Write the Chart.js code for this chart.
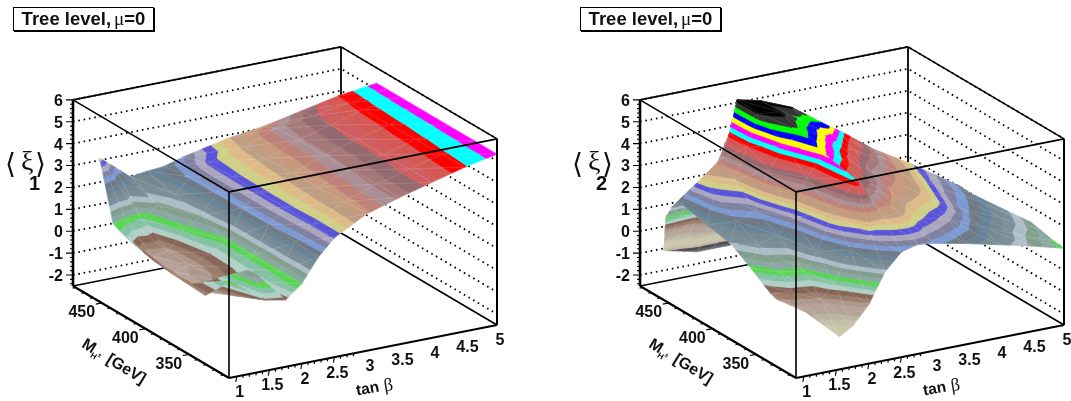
<!DOCTYPE html>
<html>
<head>
<meta charset="utf-8">
<style>
  html, body { margin: 0; padding: 0; background: #fff; width: 1071px; height: 401px; overflow: hidden; }
  canvas { position: absolute; top: 0; }
  #panel1 { left: 0; }
  #panel2 { left: 535px; }
  .tag {
    position: absolute; top: 7px; width: 139px; height: 22px;
    border: 1px solid #000; box-shadow: 1px 1px 0 #000; background: #fff; text-align: center;
    font: bold 18.5px/22px "Liberation Sans", Arial, sans-serif; color: #111; white-space: nowrap;
  }
  .tag span { font: 19px "Liberation Serif", serif; margin-left: 3px; }
</style>
</head>
<body>
<canvas id="panel1" width="535" height="401"></canvas>
<canvas id="panel2" width="536" height="401"></canvas>
<div class="tag" style="left:13px">Tree level,<span>μ</span>=0</div>
<div class="tag" style="left:580px">Tree level,<span>μ</span>=0</div>
<script src="https://cdn.jsdelivr.net/npm/chart.js@4"></script>
<script>
// values
const zTicks = [6, 5, 4, 3, 2, 1, 0, -1, -2];
const massTicks = [350, 400, 450];
const tanBetaTicks = [1, 1.5, 2, 2.5, 3, 3.5, 4, 4.5, 5];

const tanBeta1 = [1, 1.25, 1.5, 1.75, 2, 2.25, 2.5, 3, 3.5, 4, 4.5, 5];
const mass1 = [
  [340, 360, 380, 400, 423, 436, 446],
  [330, 350, 370, 395, 420, 450, 480],
  [308, 325, 345, 395, 420, 450, 482],
  [304, 330, 360, 390, 420, 450, 482],
  [304, 330, 360, 390, 420, 450, 482],
  [304, 330, 360, 390, 420, 450, 481],
  [304, 330, 360, 390, 420, 450, 478],
  [304, 330, 360, 390, 420, 445, 465],
  [304, 330, 360, 390, 420, 445, 461],
  [304, 330, 360, 390, 420, 440, 455],
  [304, 330, 360, 390, 420, 435, 449],
  [304, 330, 360, 390, 415, 430, 442]
];
const xi1 = [
  [0.35, 0.4, 0.45, 0.55, 0.75, 0.95, 1.15],
  [1.1, 0.1, 0, 0, 0.1, 1.1, 3.2],
  [0.6, 1.6, 0.45, 0.15, 0.2, 0.95, 2.6],
  [0.55, 0.75, 0.7, 0.65, 1.05, 1.45, 2.0],
  [1.15, 1.1, 1.1, 1.1, 1.5, 1.8, 2.1],
  [2.2, 2.3, 2.4, 2.45, 2.45, 2.45, 2.2],
  [2.95, 2.95, 3.0, 3.0, 3.0, 2.95, 2.55],
  [3.75, 3.7, 3.65, 3.6, 3.55, 3.5, 3.4],
  [4.2, 4.2, 4.15, 4.1, 4.1, 4.05, 3.75],
  [4.6, 4.6, 4.55, 4.55, 4.5, 4.45, 4.3],
  [5.0, 4.98, 4.95, 4.92, 4.9, 4.87, 4.85],
  [5.3, 5.3, 5.3, 5.3, 5.3, 5.3, 5.3]
];

const tanBeta2 = [1, 1.25, 1.55, 1.75, 2, 2.25, 2.5, 2.75, 3, 3.5, 4, 4.5, 5];
const mass2 = [
  [335, 342, 350, 364, 388, 415, 445, 455, 462],
  [322, 335, 350, 375, 400, 425, 440, 465, 483],
  [304, 325, 345, 375, 400, 425, 442, 468, 483],
  [304, 325, 345, 375, 400, 425, 445, 468, 483],
  [304, 325, 345, 375, 400, 430, 455, 468, 483],
  [304, 320, 338, 375, 400, 425, 447, 468, 483],
  [304, 325, 345, 375, 400, 415, 430, 445, 483],
  [304, 325, 345, 375, 390, 400, 408, 440, 483],
  [304, 325, 345, 375, 395, 405, 411, 445, 483],
  [304, 325, 345, 375, 395, 405, 410, 445, 483],
  [304, 325, 345, 375, 395, 405, 408, 445, 480],
  [304, 320, 340, 360, 375, 385, 400, 430, 470],
  [304, 315, 330, 341, 355, 375, 400, 420, 442]
];
const xi2 = [
  [0.3, 0.4, 0.6, 1.0, 1.6, 1.8, 2.1, 1.7, 1.1],
  [-0.1, 0.45, 1.05, 1.7, 2.2, 2.85, 3.2, 0.9, -1.1],
  [-1.0, 0.2, 1.0, 1.95, 2.5, 3.3, 3.8, 0.7, -1.3],
  [-0.65, 0.8, 1.8, 2.65, 4.25, 4.7, 4.85, 0, -1.45],
  [0.2, 2.2, 3.4, 4.3, 5.2, 5.95, 6.0, 0.2, -1.45],
  [1.55, 2.8, 4.95, 5.3, 5.7, 6.0, 6.0, 0.3, -1.45],
  [2.3, 3.4, 4.2, 4.95, 5.4, 5.65, 5.95, 0.6, -1.2],
  [2.5, 3.45, 3.9, 4.5, 4.85, 5.15, 5.5, 1.0, -1.2],
  [2.4, 3.1, 3.5, 4.0, 4.5, 4.8, 5.0, 0.8, -1.2],
  [2.1, 2.7, 3.2, 3.55, 3.8, 3.9, 3.9, 0.5, -1.2],
  [1.75, 2.1, 2.4, 2.75, 2.95, 3.05, 3.05, 0.2, -1.2],
  [1.4, 1.55, 1.85, 2.05, 2.15, 2.2, 1.0, 0, -1.2],
  [1.0, 1.06, 1.2, 1.3, 0.6, 0, -0.5, -0.8, -1.2]
];

// contour colours, lowest level first
const levelColors = ['#f2f2f2','#e5e5e5','#cccccc','#b3b3b3','#999999','#808080','#666666','#4d4d4d','#c1b7ad',
  '#ccc7ab','#ccc7ab','#c2bfa8','#bab5a3','#b3a696','#b8a39c','#ad998c','#9c7d6b','#876657','#b0cfc7','#85c2a3',
  '#59d454','#8aa8a1','#829e8c','#adbdc7','#7a8f99','#758a91','#688296','#6e7a85','#7d99d1','#8080a1','#aba6bf',
  '#5954d9','#cfcf87','#deba87','#bd9e82','#c7997d','#bf8278','#ab8f94','#a6787a','#94696f','#cf5e61','#d45954',
  '#ff0000','#00ffff','#ff00ff','#ffff00','#0000ff','#00ff00','#333333','#000000'];

const zMin = -2.5, zMax = 6, massMin = 304, massMax = 483, tanMin = 0.88, tanMax = 5;
const FONT = '"Liberation Sans", Arial, sans-serif';

function makePanel(canvasId, dx, tanBeta, mass, xi, levelStep, subscript) {
  // fixed oblique view of the 3D box
  const project = (t, m, z) => ({
    x: dx + 229 + (t - tanMin) * 65.05 - (m - massMin) * 0.8715,
    y: 378 - (t - tanMin) * 12.86 - (m - massMin) * 0.514 - (z - zMin) * 21.9
  });
  const line = (pts, width, dash) => ({
    data: pts, borderColor: '#000', borderWidth: width, borderDash: dash || [], borderCapStyle: 'butt',
    fill: false, showLine: true, pointRadius: 0, tension: 0
  });
  const edge = (a, b, width, dash) => line([project(...a), project(...b)], width, dash);
  const gap = { x: NaN, y: NaN };

  const sets = [];

  // back walls
  zTicks.forEach(z => {
    sets.push(line([project(tanMin, massMax, z), project(tanMax, massMax, z), project(tanMax, massMin, z)], 1.8, [1.6, 3.8]));
  });
  sets.push(edge([tanMin, massMax, zMax], [tanMax, massMax, zMax], 1.6));
  sets.push(edge([tanMax, massMax, zMax], [tanMax, massMin, zMax], 1.6));
  sets.push(edge([tanMax, massMax, zMax], [tanMax, massMax, zMin], 1.8));
  sets.push(edge([tanMin, massMax, zMin], [tanMax, massMax, zMin], 1.6));
  sets.push(edge([tanMax, massMax, zMin], [tanMax, massMin, zMin], 1.6));

  // contour bands on each triangle, cut level by level
  const clip = (poly, level, keepAbove) => {
    const out = [];
    poly.forEach((p, i) => {
      const q = poly[(i + 1) % poly.length];
      const pIn = keepAbove ? p.z >= level : p.z <= level;
      const qIn = keepAbove ? q.z >= level : q.z <= level;
      if (pIn) out.push(p);
      if (pIn !== qIn) {
        const f = (level - p.z) / (q.z - p.z);
        out.push({ x: p.x + (q.x - p.x) * f, y: p.y + (q.y - p.y) * f, z: level });
      }
    });
    return out;
  };
  const addTriangle = tri => {
    const zs = tri.map(p => p.z);
    const first = Math.max(0, Math.floor((Math.min(...zs) - zMin) / levelStep));
    const last = Math.min(levelColors.length - 1, Math.floor((Math.max(...zs) - zMin) / levelStep));
    for (let k = first; k <= last; k++) {
      let poly = tri;
      if (k > 0) poly = clip(poly, zMin + k * levelStep, true);
      if (poly.length && k < levelColors.length - 1) poly = clip(poly, zMin + (k + 1) * levelStep, false);
      if (poly.length < 3) continue;
      const c = levelColors[k];
      sets.push({ data: [...poly, poly[0]], borderColor: c, backgroundColor: c, borderWidth: 0.7,
        fill: 'shape', showLine: true, pointRadius: 0, tension: 0 });
    }
    sets.push({ data: [...tri, tri[0]], borderColor: 'rgba(255,255,255,0.17)', borderWidth: 0.6,
      fill: false, showLine: true, pointRadius: 0, tension: 0 });
  };
  const node = (i, j) => ({ ...project(tanBeta[i], mass[i][j], xi[i][j]), z: xi[i][j] });
  // far corner first, painter style
  for (let i = tanBeta.length - 2; i >= 0; i--) {
    for (let j = mass[i].length - 2; j >= 0; j--) {
      addTriangle([node(i + 1, j + 1), node(i + 1, j), node(i, j + 1)]);
      addTriangle([node(i + 1, j), node(i, j), node(i, j + 1)]);
    }
  }

  // front of the box and axes
  sets.push(edge([tanMin, massMax, zMax], [tanMin, massMin, zMax], 1.6));
  sets.push(edge([tanMin, massMin, zMax], [tanMax, massMin, zMax], 1.6));
  sets.push(edge([tanMin, massMin, zMax], [tanMin, massMin, zMin], 1.6));
  sets.push(edge([tanMax, massMin, zMax], [tanMax, massMin, zMin], 2));
  sets.push(edge([tanMin, massMax, zMax], [tanMin, massMax, zMin], 2.6));
  sets.push(edge([tanMin, massMax, zMin], [tanMin, massMin, zMin], 2.2));
  sets.push(edge([tanMin, massMin, zMin], [tanMax, massMin, zMin], 2.2));

  const ticks = [];
  const addTick = (p, ox, oy) => ticks.push(p, { x: p.x + ox, y: p.y + oy }, gap);
  for (let k = 0; k <= 42; k++) {
    const z = zMin + 0.1 + k * 0.2;
    addTick(project(tanMin, massMax, z), -3, 0);
  }
  zTicks.forEach(z => addTick(project(tanMin, massMax, z), -7, 0));
  for (let m = 310; m <= 480; m += 10) {
    const major = massTicks.includes(m);
    addTick(project(tanMin, m, zMin), major ? -6 : -3, major ? 1.2 : 0.6);
  }
  for (let k = 0; k <= 40; k++) {
    const t = 1 + k * 0.1;
    const major = k % 5 === 0;
    addTick(project(t, massMin, zMin), major ? -1 : -0.5, major ? 5.5 : 2.8);
  }
  sets.push(line(ticks, 1.1));

  const labels = {
    id: 'labels',
    afterDraw(chart) {
      const ctx = chart.ctx;
      ctx.save();
      ctx.fillStyle = '#111';
      ctx.textBaseline = 'middle';
      ctx.font = 'bold 16px ' + FONT;
      ctx.textAlign = 'right';
      zTicks.forEach(z => {
        const p = project(tanMin, massMax, z);
        ctx.fillText(String(z), p.x - 10, p.y + 1.5);
      });
      ctx.textAlign = 'center';
      massTicks.forEach(m => {
        const p = project(tanMin, m, zMin);
        ctx.fillText(String(m), p.x - 20, p.y + 10);
      });
      tanBetaTicks.forEach(t => {
        const p = project(t, massMin, zMin);
        ctx.fillText(String(t), p.x + 3, p.y + 16);
      });

      // tan beta title
      ctx.save();
      ctx.translate(dx + 375, 388);
      ctx.rotate(-0.17);
      ctx.textAlign = 'left';
      ctx.font = 'bold 15.5px ' + FONT;
      ctx.fillText('tan', -19, 0);
      ctx.font = '18px "Liberation Serif", serif';
      ctx.fillText('β', 9, 0);
      ctx.restore();

      // mass title
      ctx.save();
      ctx.translate(dx + 83, 343);
      ctx.rotate(0.55);
      ctx.textAlign = 'left';
      ctx.font = 'bold 16px ' + FONT;
      ctx.fillText('M', 0, 0);
      ctx.font = 'bold 8px ' + FONT;
      ctx.fillText('H', 13, 6);
      ctx.font = 'bold 6px ' + FONT;
      ctx.fillText('±', 19, 2);
      ctx.font = 'bold 16px ' + FONT;
      ctx.fillText('[GeV]', 29, 0);
      ctx.restore();

      // y title
      ctx.textAlign = 'left';
      ctx.font = '28px "DejaVu Sans", sans-serif';
      ctx.fillText('⟨', dx + 5, 166);
      ctx.fillText('⟩', dx + 35, 166);
      ctx.font = '28px "Liberation Serif", serif';
      ctx.fillText('ξ', dx + 21, 163);
      ctx.font = 'bold 20px ' + FONT;
      ctx.fillText(subscript, dx + 29, 184);
      ctx.restore();
    }
  };

  const canvas = document.getElementById(canvasId);
  return new Chart(canvas, {
    type: 'scatter',
    data: { datasets: sets.reverse() }, // first dataset is painted last
    plugins: [labels],
    options: {
      responsive: false,
      animation: false,
      parsing: false,
      normalized: true,
      events: [],
      layout: { padding: 0 },
      plugins: { legend: { display: false }, tooltip: { enabled: false } },
      scales: {
        x: { type: 'linear', display: false, min: 0, max: canvas.width },
        y: { type: 'linear', display: false, min: 0, max: canvas.height, reverse: true }
      }
    }
  });
}

makePanel('panel1', 0, tanBeta1, mass1, xi1, 0.175, '1');
makePanel('panel2', 32, tanBeta2, mass2, xi2, 0.172, '2');
</script>
</body>
</html>
